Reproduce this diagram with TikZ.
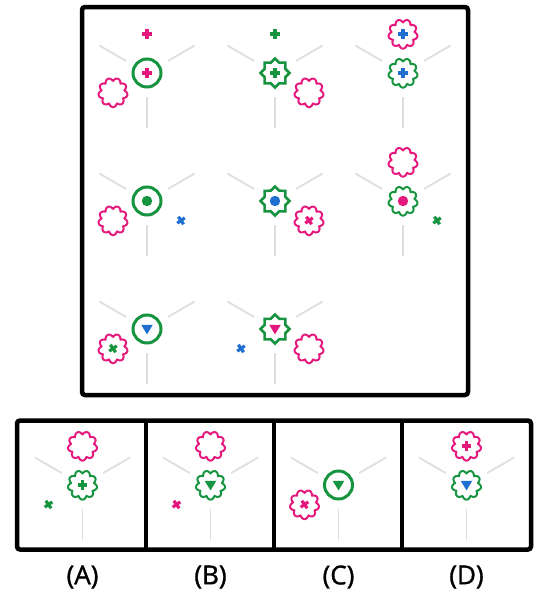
\documentclass[tikz,border=0pt]{standalone}
\usepackage{fontspec}
\setmainfont{Open Sans}
\newfontfamily\lblfont{Open Sans}[FakeBold=1.3]
\definecolor{pk}{HTML}{E5197D}
\definecolor{gn}{HTML}{17943F}
\definecolor{bl}{HTML}{1F6FD0}
\definecolor{spk}{HTML}{DEDEDE}
\tikzset{
  x=1pt, y=-1pt,
  spokeline/.style={draw=spk, line width=1.8pt},
  frame/.style={draw=black, line width=4.5pt, rounded corners=3pt},
  lbl/.style={font=\lblfont\fontsize{26}{30}\selectfont},
  spokes/.pic={
    \draw[spokeline] (-20.8,-12) -- (-47.6,-27.5);
    \draw[spokeline] (20.8,-12) -- (47.6,-27.5);
    \draw[spokeline] (0,24) -- (0,55);
  },
  ring/.pic={\draw[#1, line width=3pt] (0,0) circle[radius=14];},
  starf/.pic={\draw[#1, line width=2.5pt, line join=miter]
     plot[samples at={0,22.5,...,337.5}] ({(mod(round(\x/22.5),2)==0 ? 14.5 : 11.1)*cos(\x-90)}, {(mod(round(\x/22.5),2)==0 ? 14.5 : 11.1)*sin(\x-90)}) -- cycle;},
  flower/.pic={\draw[#1, line width=2pt, line join=round]
     plot[domain=0:360, samples=181] ({(11.6+3*abs(cos(4.5*\x)))*cos(\x+90)}, {(11.6+3*abs(cos(4.5*\x)))*sin(\x+90)}) -- cycle;},
  plusg/.pic={\draw[#1, line width=3.2pt] (-4.6,0) -- (4.6,0) (0,-4.6) -- (0,4.6);},
  crossg/.pic={\draw[#1, line width=3.2pt, rotate=35] (-4.6,0) -- (4.6,0) (0,-4.6) -- (0,4.6);},
  dotg/.pic={\fill[#1] (0,0) circle[radius=5.2];},
  trig/.pic={\fill[#1] (-5.8,-4.2) -- (5.8,-4.2) -- (0,5.4) -- cycle;},
}
\begin{document}
\begin{tikzpicture}
\useasboundingbox (0,0) rectangle (550,600);
% frames
\draw[frame] (82,7) rectangle (468,395);
\draw[frame] (17,420.5) rectangle (531,549.5);
\draw[black, line width=4.5pt] (146,420.5) -- (146,549.5);
\draw[black, line width=4.5pt] (274,420.5) -- (274,549.5);
\draw[black, line width=4.5pt] (402,420.5) -- (402,549.5);
% ---------- row 1
\begin{scope}[shift={(147,73)}]
  \pic {spokes}; \pic {ring=gn}; \pic {plusg=pk};
  \pic at (0,-39) {plusg=pk};
  \pic at (-34,19.5) {flower=pk};
\end{scope}
\begin{scope}[shift={(275,73)}]
  \pic {spokes}; \pic {starf=gn}; \pic {plusg=gn};
  \pic at (0,-39) {plusg=gn};
  \pic at (34,19.5) {flower=pk};
\end{scope}
\begin{scope}[shift={(403,73)}]
  \pic {spokes}; \pic {flower=gn}; \pic {plusg=bl};
  \pic at (0,-39) {flower=pk}; \pic at (0,-39) {plusg=bl};
\end{scope}
% ---------- row 2
\begin{scope}[shift={(147,201)}]
  \pic {spokes}; \pic {ring=gn}; \pic {dotg=gn};
  \pic at (-34,19.5) {flower=pk};
  \pic at (34,19.5) {crossg=bl};
\end{scope}
\begin{scope}[shift={(275,201)}]
  \pic {spokes}; \pic {starf=gn}; \pic {dotg=bl};
  \pic at (34,19.5) {flower=pk}; \pic at (34,19.5) {crossg=pk};
\end{scope}
\begin{scope}[shift={(403,201)}]
  \pic {spokes}; \pic {flower=gn}; \pic {dotg=pk};
  \pic at (0,-39) {flower=pk};
  \pic at (34,19.5) {crossg=gn};
\end{scope}
% ---------- row 3
\begin{scope}[shift={(147,329)}]
  \pic {spokes}; \pic {ring=gn}; \pic {trig=bl};
  \pic at (-34,19.5) {flower=pk}; \pic at (-34,19.5) {crossg=gn};
\end{scope}
\begin{scope}[shift={(275,329)}]
  \pic {spokes}; \pic {starf=gn}; \pic {trig=pk};
  \pic at (-34,19.5) {crossg=bl};
  \pic at (34,19.5) {flower=pk};
\end{scope}
% ---------- answers
\begin{scope}[shift={(82.5,485)}]
  \pic {spokes}; \pic {flower=gn}; \pic {plusg=gn};
  \pic at (0,-39) {flower=pk};
  \pic at (-34,19.5) {crossg=gn};
\end{scope}
\begin{scope}[shift={(210.5,485)}]
  \pic {spokes}; \pic {flower=gn}; \pic {trig=gn};
  \pic at (0,-39) {flower=pk};
  \pic at (-34,19.5) {crossg=pk};
\end{scope}
\begin{scope}[shift={(338.5,485)}]
  \pic {spokes}; \pic {ring=gn}; \pic {trig=gn};
  \pic at (-34,19.5) {flower=pk}; \pic at (-34,19.5) {crossg=pk};
\end{scope}
\begin{scope}[shift={(466.5,485)}]
  \pic {spokes}; \pic {flower=gn}; \pic {trig=bl};
  \pic at (0,-39) {flower=pk}; \pic at (0,-39) {plusg=pk};
\end{scope}
\node[lbl] (la) at (82.5,577) {(A)};
\node[lbl] (lb) at (210.5,577) {(B)};
\node[lbl] (lc) at (338.5,577) {(C)};
\node[lbl] (ld) at (466.5,577) {(D)};
\end{tikzpicture}
\end{document}
